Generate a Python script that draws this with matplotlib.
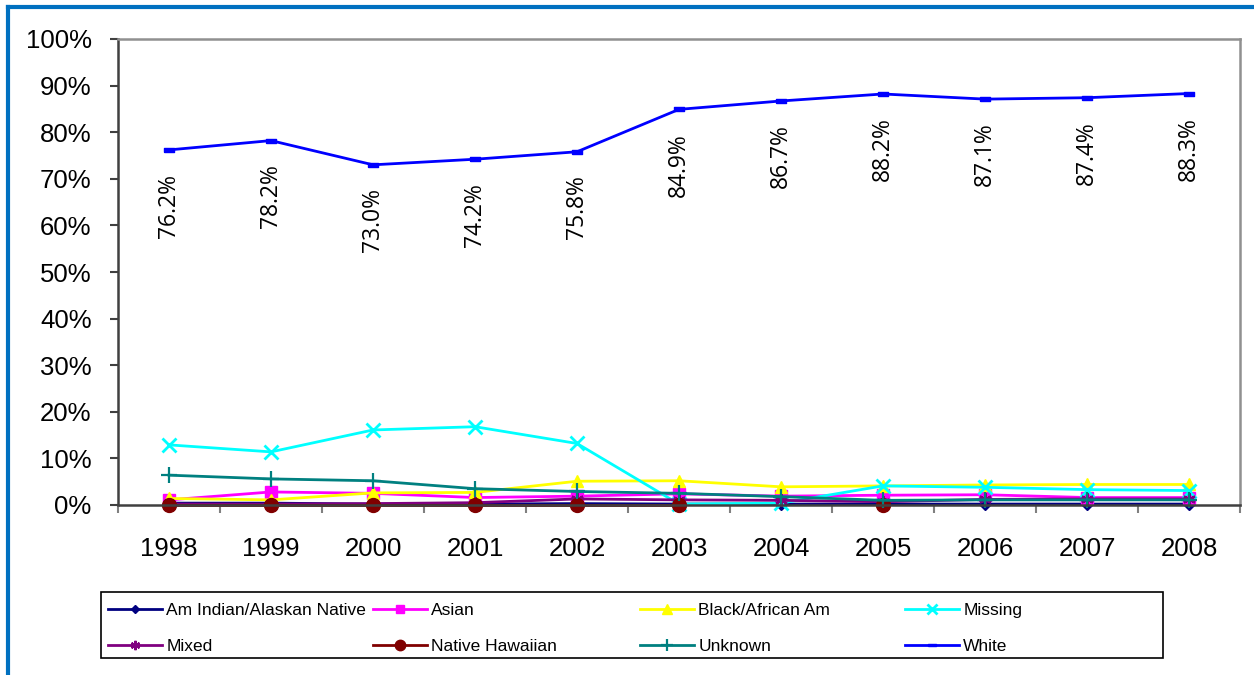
import numpy as np
import matplotlib
matplotlib.use("Agg")
import matplotlib.pyplot as plt
from matplotlib.lines import Line2D
from matplotlib.patches import Rectangle

years = ["1998", "1999", "2000", "2001", "2002", "2003", "2004", "2005", "2006", "2007", "2008"]
y_ticks = [0, 10, 20, 30, 40, 50, 60, 70, 80, 90, 100]

am_indian = [0.4, 0.4, 0.2, 0.2, 0.3, 0.2, 0.2, 0.2, 0.2, 0.2, 0.2]
asian = [1.1, 2.8, 2.5, 1.6, 1.9, 2.4, 1.9, 2.1, 2.2, 1.6, 1.6]
black = [1.4, 1.1, 2.6, 2.7, 5.1, 5.2, 3.9, 4.1, 4.3, 4.4, 4.4]
missing = [12.9, 11.4, 16.1, 16.8, 13.2, 0.2, 0.4, 4.1, 3.8, 3.3, 3.1]
mixed = [0.2, 0.2, 0.3, 0.5, 1.3, 1.1, 1.0, 0.7, 1.2, 1.3, 1.3]
native_hawaiian = [0.05, 0.05, 0.05, 0.05, 0.05, 0.05, np.nan, 0.05, np.nan, np.nan, np.nan]
unknown = [6.4, 5.6, 5.2, 3.5, 2.9, 2.5, 1.8, 1.0, 1.1, 1.1, 1.1]
white = [76.2, 78.2, 73.0, 74.2, 75.8, 84.9, 86.7, 88.2, 87.1, 87.4, 88.3]

W, H = 1254, 675
fig = plt.figure(figsize=(W / 100, H / 100), dpi=100)
fig.patch.set_facecolor("white")

def fx(px):
    return px / W

def fy(py):
    return 1 - py / H

ax = fig.add_axes([fx(118), fy(505), fx(1240) - fx(118), fy(39) - fy(505)])

x = np.arange(len(years))
dash = [(-1, -0.4), (1, -0.4), (1, 0.4), (-1, 0.4), (-1, -0.4)]

series = [
    ("Am Indian/Alaskan Native", am_indian, "#000080", dict(marker="D", ms=6, mfc="#000080", mec="#000080")),
    ("Asian", asian, "#FF00FF", dict(marker="s", ms=8, mfc="#FF00FF", mec="#FF00FF")),
    ("Black/African Am", black, "#FFFF00", dict(marker="^", ms=9, mfc="#FFFF00", mec="#FFFF00")),
    ("Missing", missing, "#00FFFF", dict(marker="x", ms=10, mew=2, mec="#00FFFF")),
    ("Mixed", mixed, "#800080", dict(marker=(6, 2, 0), ms=9, mew=1.6, mec="#800080")),
    ("Native Hawaiian", native_hawaiian, "#800000", dict(marker="o", ms=10, mfc="#800000", mec="#800000")),
    ("Unknown", unknown, "#008080", dict(marker="+", ms=12, mew=1.6, mec="#008080")),
    ("White", white, "#0000FF", dict(marker=dash, ms=7, mfc="#0000FF", mec="#0000FF")),
]

handles = []
for name, vals, col, mk in series:
    ln, = ax.plot(x, vals, color=col, lw=2, label=name, clip_on=False, **mk)
    handles.append(ln)

for xi, v in zip(x, white):
    ax.annotate(f"{v:.1f}%", (xi, v), xytext=(0, -17), textcoords="offset points",
                rotation=90, ha="center", va="top", fontsize=16.5, family="Open Sans",
                color="black")

ax.set_xlim(-0.5, len(years) - 0.5)
ax.set_ylim(0, 100)
ax.set_yticks(y_ticks)
ax.set_yticklabels([f"{t}%" for t in y_ticks])
ax.set_xticks(x)
ax.set_xticklabels(years)
ax.set_xticks(np.arange(-0.5, len(years), 1.0), minor=True)

for lab in ax.get_xticklabels() + ax.get_yticklabels():
    lab.set_family("Liberation Sans")
    lab.set_fontsize(18.5)

ax.tick_params(axis="y", which="major", direction="out", length=6, width=1.5,
               color="#404040", pad=13)
ax.tick_params(axis="x", which="major", length=0, pad=23)
ax.tick_params(axis="x", which="minor", direction="out", length=6, width=1.5,
               color="#808080")

ax.spines["left"].set_color("#404040")
ax.spines["bottom"].set_color("#404040")
ax.spines["top"].set_color("#909090")
ax.spines["right"].set_color("#909090")
for s in ax.spines.values():
    s.set_linewidth(1.8)
ax.spines["left"].set_zorder(0.5)

# legend: four columns placed individually
cols = [(108, [0, 4]), (373, [1, 5]), (640, [2, 6]), (905, [3, 7])]
for xpx, idx in cols:
    lg = fig.legend([handles[i] for i in idx], [series[i][0] for i in idx],
                    loc="upper left", bbox_to_anchor=(fx(xpx), fy(603)),
                    bbox_transform=fig.transFigure, frameon=False,
                    borderpad=0, borderaxespad=0, handlelength=3.1,
                    handletextpad=0.25, labelspacing=1.2,
                    prop={"family": "Liberation Sans", "size": 12.5})
    for h in lg.legend_handles:
        h.set_markersize(h.get_markersize() * 0.75)

fig.patches.append(Rectangle((fx(101), fy(658)), fx(1163) - fx(101), fy(592) - fy(658),
                             transform=fig.transFigure, fill=False, edgecolor="black",
                             linewidth=1.2))

# blue frame lines (top and left)
fig.add_artist(Line2D([fx(8), 1.0], [fy(7), fy(7)], transform=fig.transFigure,
                      color="#0070C0", lw=3))
fig.add_artist(Line2D([fx(8), fx(8)], [0.0, fy(7)], transform=fig.transFigure,
                      color="#0070C0", lw=3))

fig.savefig("out.png", dpi=100)
